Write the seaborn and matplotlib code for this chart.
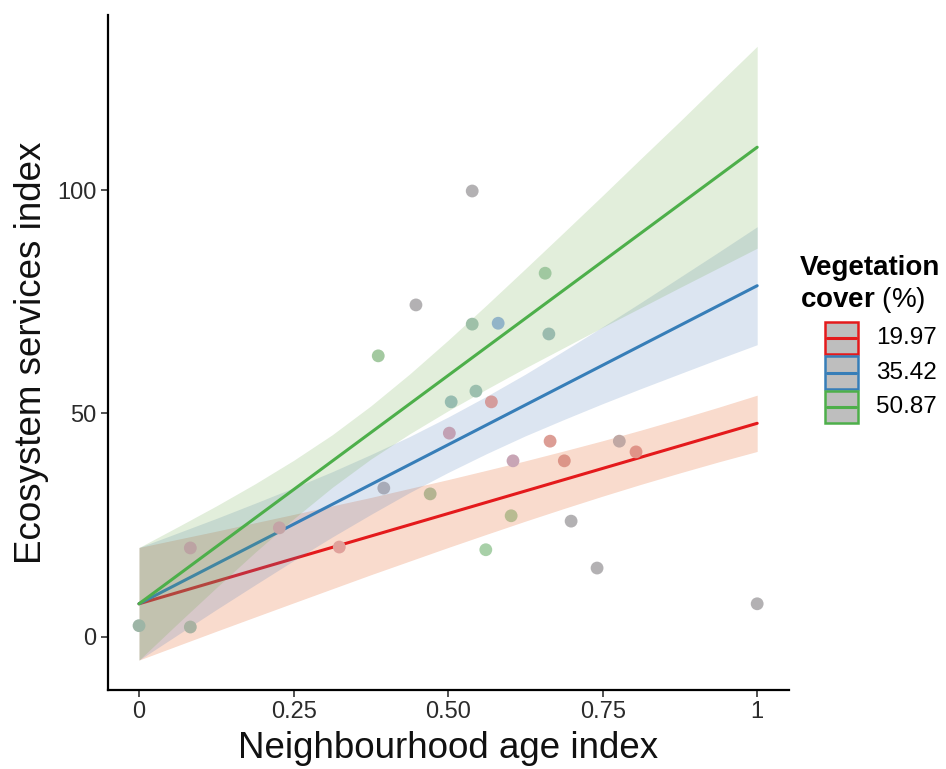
import matplotlib
matplotlib.use("Agg")
import matplotlib.pyplot as plt
import seaborn as sns
import numpy as np
import pandas as pd
from matplotlib.patches import Rectangle
from matplotlib.lines import Line2D

# ---------------- data ----------------
age_index = [0.000, 0.083, 0.083, 0.227, 0.324, 0.396, 0.387, 0.448, 0.539, 0.539,
             0.581, 0.657, 0.663, 0.545, 0.505, 0.570, 0.502, 0.605, 0.665, 0.688,
             0.777, 0.804, 0.471, 0.602, 0.699, 0.561, 0.741, 1.000]
ess_index = [2.5, 2.2, 19.9, 24.4, 20.1, 33.3, 62.9, 74.3, 99.8, 70.0,
             70.2, 81.4, 67.8, 55.0, 52.6, 52.6, 45.6, 39.4, 43.8, 39.4,
             43.8, 41.4, 32.0, 27.1, 25.9, 19.5, 15.4, 7.4]
# apparent colour of each point in the reference
point_colors = ["#9DB5A6", "#A9B2A2", "#BCA3A3", "#C4A4A6", "#E0A19B", "#A8ABB8",
                "#A3C9A0", "#B3B1B3", "#B3B1B3", "#9EC0A8", "#92B4C8", "#A0C8A0",
                "#9ABBAE", "#9CBFAE", "#97BCB0", "#D49C9C", "#C2A1B4", "#C8A5B5",
                "#DC9D95", "#DC9588", "#C0A8A4", "#E09488", "#B4B491", "#B8BB91",
                "#B3B1B3", "#A8D0A8", "#B3B1B3", "#B3B1B3"]

veg_levels = ["19.97", "35.42", "50.87"]

# fitted lines (at age index 0 and 1)
line_x = [0.0, 1.0]
fit_red = [7.4, 47.8]
fit_blue = [7.4, 78.6]
fit_green = [7.4, 109.6]

# confidence ribbons
band_x = [0.0, 0.0625, 0.125, 0.1875, 0.25, 0.3125, 0.375, 0.4375, 0.5,
          0.5625, 0.625, 0.6875, 0.75, 0.8125, 0.875, 0.9375, 1.0]
red_lo = [-5.2, -1.97, 1.25, 4.43, 7.6, 10.75, 13.9, 16.95, 20.0,
          22.97, 25.9, 28.74, 31.5, 34.16, 36.7, 39.16, 41.5]
red_hi = [20.0, 21.83, 23.65, 25.53, 27.4, 29.31, 31.2, 33.21, 35.2,
          37.29, 39.4, 41.62, 43.9, 46.3, 48.8, 51.4, 54.1]
blue_lo = [-5.2, 0.46, 6.1, 11.61, 17.05, 22.34, 27.4, 32.28, 36.8,
           41.03, 45.0, 48.66, 52.2, 55.6, 58.9, 62.19, 65.4]
blue_hi = [20.0, 23.24, 26.5, 29.89, 33.35, 36.96, 40.8, 44.82, 49.2,
           53.87, 58.8, 64.04, 69.4, 74.9, 80.5, 86.11, 91.8]
green_lo = [-5.2, 2.97, 11.0, 18.89, 26.4, 33.45, 39.8, 45.42, 50.6,
            55.47, 60.2, 64.75, 69.3, 73.74, 78.2, 82.6, 87.0]
green_hi = [20.0, 24.61, 29.3, 34.23, 39.5, 45.23, 51.7, 58.8, 66.4,
            74.31, 82.4, 90.57, 98.8, 107.14, 115.4, 123.82, 132.2]

x_ticks = [0, 0.25, 0.5, 0.75, 1]
x_ticklabels = ["0", "0.25", "0.50", "0.75", "1"]
y_ticks = [0, 50, 100]
y_ticklabels = ["0", "50", "100"]

# ---------------- styling ----------------
sns.set_theme(style="ticks")
plt.rcParams["font.family"] = ["Liberation Sans", "DejaVu Sans"]
plt.rcParams["mathtext.fontset"] = "custom"
plt.rcParams["mathtext.rm"] = "Liberation Sans"
plt.rcParams["mathtext.bf"] = "Liberation Sans:bold"

line_cols = ["#E41A1C", "#377EB8", "#4DAF4A"]
fill_cols = ["#E14B05", "#507DB9", "#6EAA4B"]
fill_alpha = 0.2

W, H = 946, 769
fig = plt.figure(figsize=(W / 100, H / 100), dpi=100)
ax = fig.add_axes([107.5 / W, 1 - 690 / H, (788.7 - 107.5) / W, (690 - 15) / H])

fits = [fit_red, fit_blue, fit_green]
los = [red_lo, blue_lo, green_lo]
his = [red_hi, blue_hi, green_hi]
z = 2
for lev, fit, lo, hi, lc, fc in zip(veg_levels, fits, los, his, line_cols, fill_cols):
    ax.fill_between(band_x, lo, hi, color=fc, alpha=fill_alpha, linewidth=0, zorder=z)
    df = pd.DataFrame({"age": line_x, "ess": fit})
    sns.lineplot(data=df, x="age", y="ess", ax=ax, color=lc, linewidth=2.2,
                 zorder=z + 1, legend=False)
    z += 2

pts = pd.DataFrame({"age": age_index, "ess": ess_index, "col": point_colors})
sns.scatterplot(data=pts, x="age", y="ess", hue="col", palette={c: c for c in set(point_colors)},
                ax=ax, s=85, edgecolor="none", linewidth=0, zorder=6.5, legend=False)

ax.set_xlim(-0.051, 1.051)
ax.set_ylim(-11.9, 139.2)
ax.set_xticks(x_ticks)
ax.set_xticklabels(x_ticklabels)
ax.set_yticks(y_ticks)
ax.set_yticklabels(y_ticklabels)

for s in ["top", "right"]:
    ax.spines[s].set_visible(False)
for s in ["left", "bottom"]:
    ax.spines[s].set_linewidth(1.6)
    ax.spines[s].set_color("black")
ax.tick_params(axis="both", length=5, width=1.2, color="#333333",
               labelsize=17, labelcolor="#2b2b2b", pad=3)

ax.set_xlabel("Neighbourhood age index", fontsize=26.5, color="#111111", labelpad=6)
ax.set_ylabel("Ecosystem services index", fontsize=26.5, color="#111111", labelpad=6)

# ---------------- legend (drawn in figure pixels) ----------------
def fx(px):
    return px / W


def fy(py):
    return 1 - py / H


key_left, key_right = 825, 858
key_tops = [322, 356.5, 391]
key_h = 32
for lev, lc, top in zip(veg_levels, line_cols, key_tops):
    fig.patches.append(Rectangle((fx(key_left), fy(top + key_h)), fx(key_right) - fx(key_left),
                                 fy(top) - fy(top + key_h), transform=fig.transFigure,
                                 facecolor="#BEBEBE", edgecolor=lc, linewidth=1.8))
    ymid = fy(top + key_h / 2)
    fig.lines.append(Line2D([fx(key_left + 2), fx(key_right - 2)], [ymid, ymid],
                            transform=fig.transFigure, color=lc, linewidth=2.2))
    fig.text(fx(876), ymid, lev, fontsize=17.5, va="center", ha="left", color="black")

fig.text(fx(800), fy(268), "Vegetation", fontsize=20, fontweight="bold",
         va="center", ha="left", color="black")
fig.text(fx(800), fy(300), r"$\mathbf{cover}$ (%)", fontsize=20,
         va="center", ha="left", color="black")

fig.savefig("out.png", dpi=100)
